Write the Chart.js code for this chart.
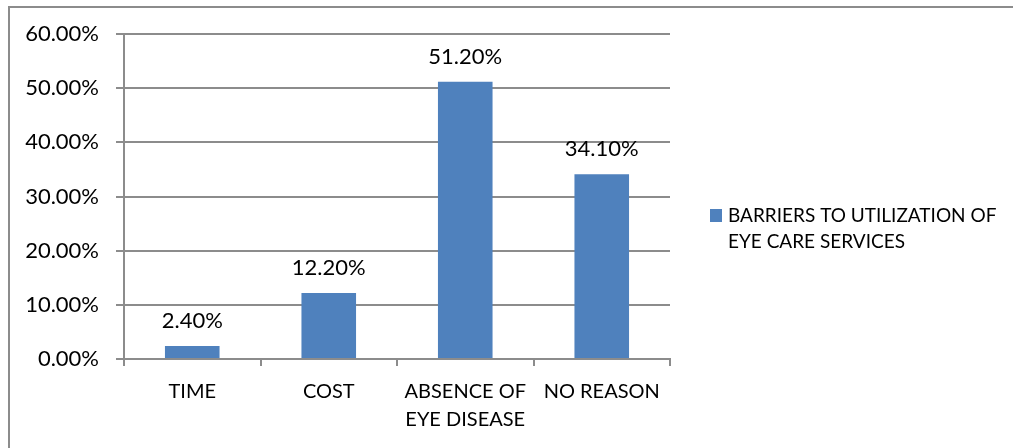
<!DOCTYPE html>
<html>
<head>
<meta charset="utf-8">
<script src="https://cdn.jsdelivr.net/npm/chart.js@4.4.1/dist/chart.umd.min.js"></script>
<style>
  html, body { margin: 0; padding: 0; background: #fff; }
  #wrap { position: relative; width: 1013px; height: 448px; overflow: hidden; }
  #frame { position: absolute; left: 8px; top: 6px; width: 1100px; height: 500px;
           border-left: 2px solid #8c8c8c; border-top: 2px solid #8c8c8c; box-sizing: border-box; }
  canvas { position: absolute; left: 0; top: 0; }
</style>
</head>
<body>
<div id="wrap">
  <div id="frame"></div>
  <canvas id="c" width="1013" height="448"></canvas>
</div>
<script>
// Barriers to utilization of eye care services (share of respondents, %)
const categories = [["TIME"], ["COST"], ["ABSENCE OF", "EYE DISEASE"], ["NO REASON"]];
const values = [2.4, 12.2, 51.2, 34.1];
const seriesName = "BARRIERS TO UTILIZATION OF EYE CARE SERVICES";
const legendLines = ["BARRIERS TO UTILIZATION OF", "EYE CARE SERVICES"];
const yTicks = [0, 10, 20, 30, 40, 50, 60];

const FONT = "Lato, 'Liberation Sans', sans-serif";
const BAR = "#4f81bd";
const GRID = "#8c8c8c";

// value labels above each bar
const valueLabels = {
  id: "valueLabels",
  afterDatasetsDraw(chart) {
    const ctx = chart.ctx;
    const meta = chart.getDatasetMeta(0);
    ctx.save();
    ctx.font = "22px " + FONT;
    ctx.fillStyle = "#000";
    ctx.textAlign = "center";
    ctx.textBaseline = "middle";
    meta.data.forEach((bar, i) => {
      ctx.fillText(values[i].toFixed(2) + "%", bar.x, bar.y - 25);
    });
    ctx.restore();
  }
};

// legend on the right with a wrapped series name
const sideLegend = {
  id: "sideLegend",
  afterDraw(chart) {
    const ctx = chart.ctx;
    ctx.save();
    ctx.fillStyle = BAR;
    ctx.fillRect(710, 209, 12, 13);
    ctx.font = "19px " + FONT;
    ctx.fillStyle = "#000";
    ctx.textAlign = "left";
    ctx.textBaseline = "middle";
    legendLines.forEach((t, i) => ctx.fillText(t, 728, 216 + i * 26));
    ctx.restore();
  }
};

new Chart(document.getElementById("c"), {
  type: "bar",
  data: {
    labels: categories,
    datasets: [{
      label: seriesName,
      data: values,
      backgroundColor: BAR,
      borderWidth: 0,
      categoryPercentage: 1.0,
      barPercentage: 0.4
    }]
  },
  options: {
    responsive: false,
    animation: false,
    devicePixelRatio: 1,
    layout: { padding: { top: 34, right: 343, bottom: 0, left: 0 } },
    plugins: { legend: { display: false }, tooltip: { enabled: false } },
    scales: {
      x: {
        grid: { drawOnChartArea: false, drawTicks: true, tickLength: 7, color: GRID, lineWidth: 2 },
        border: { color: GRID, width: 2 },
        ticks: { color: "#000", font: { family: FONT, size: 20, lineHeight: 1.4 }, padding: 12, maxRotation: 0, autoSkip: false },
        afterFit(scale) { scale.height = 89; }
      },
      y: {
        min: 0, max: 60,
        afterBuildTicks(scale) { scale.ticks = yTicks.map(v => ({ value: v })); },
        grid: { color: GRID, lineWidth: 2, tickLength: 8, drawTicks: true },
        border: { color: GRID, width: 2 },
        ticks: {
          color: "#000",
          font: { family: FONT, size: 22 },
          padding: 17,
          callback: v => v.toFixed(2) + "%"
        },
        afterFit(scale) { scale.width = 124; }
      }
    }
  },
  plugins: [valueLabels, sideLegend]
});
</script>
</body>
</html>
